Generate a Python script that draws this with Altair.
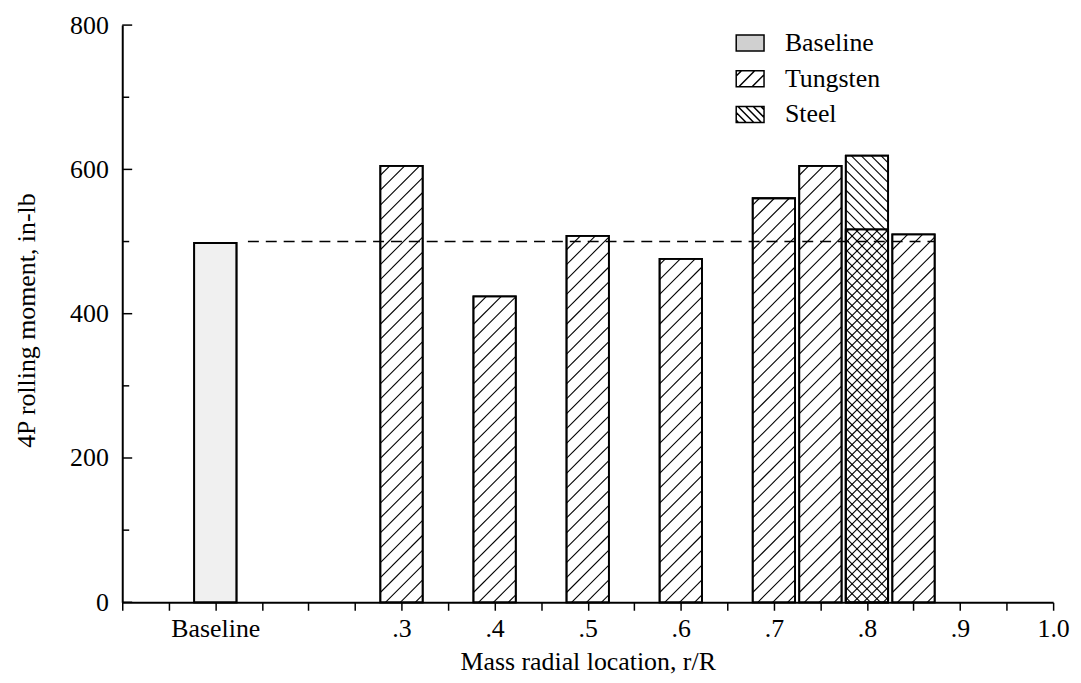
import altair as alt
import pandas as pd

# ---------------- data ----------------
SERIES = ["Baseline", "Tungsten", "Steel"]
BASELINE_X = [0.1]
BASELINE_Y = [498]
TUNGSTEN_X = [0.3, 0.4, 0.5, 0.6, 0.7, 0.75, 0.8, 0.85]
TUNGSTEN_Y = [605, 424, 508, 476, 560, 605, 517, 510]
STEEL_X = [0.8]
STEEL_Y = [619]
REF_LEVEL = [500]
REF_FROM = [0.135]
REF_TO = [0.872]

X_TICKS = [0, 0.05, 0.1, 0.15, 0.2, 0.25, 0.3, 0.35, 0.4, 0.45, 0.5,
           0.55, 0.6, 0.65, 0.7, 0.75, 0.8, 0.85, 0.9, 0.95, 1.0]
X_LABEL_AT = [0.1, 0.3, 0.4, 0.5, 0.6, 0.7, 0.8, 0.9, 1.0]
X_LABELS = ["Baseline", ".3", ".4", ".5", ".6", ".7", ".8", ".9", "1.0"]
Y_MAJOR = [0, 200, 400, 600, 800]
Y_MINOR = [100, 300, 500, 700]

# ---------------- layout / style constants ----------------
W, H = 937, 581
X_DOMAIN = [0, 1.0]
Y_DOMAIN = [0, 800]
BAR_W = 0.0455              # bar width in x units
PX_X = W / (X_DOMAIN[1] - X_DOMAIN[0])
PX_Y = H / (Y_DOMAIN[1] - Y_DOMAIN[0])
FONT = "Liberation Serif"
INK = "black"

# ---------------- tables ----------------
rows = []
for s, xs_, ys_ in [("Baseline", BASELINE_X, BASELINE_Y),
                    ("Steel", STEEL_X, STEEL_Y),
                    ("Tungsten", TUNGSTEN_X, TUNGSTEN_Y)]:
    for xv, yv in zip(xs_, ys_):
        rows.append({"series": s, "xc": xv, "xl": xv - BAR_W / 2,
                     "xr": xv + BAR_W / 2, "y": yv, "y0": 0})
bars = pd.DataFrame(rows)


def hatch_segments(xc, top, spacing, direction):
    """Hatch lines inside a bar, computed in pixel space, returned in data units."""
    w = BAR_W * PX_X
    h = top * PX_Y
    xl = xc - BAR_W / 2
    segs = []
    if direction == "/":
        c = -w + spacing * 0.5
        while c < h:
            u0, u1 = max(0.0, -c), min(w, h - c)
            if u1 - u0 > 0.5:
                segs.append((u0, u0 + c, u1, u1 + c))
            c += spacing
    else:
        c = spacing * 0.5
        while c < w + h:
            u0, u1 = max(0.0, c - h), min(w, c)
            if u1 - u0 > 0.5:
                segs.append((u0, c - u0, u1, c - u1))
            c += spacing
    return [{"hx": xl + a / PX_X, "hy": b / PX_Y,
             "hx2": xl + c_ / PX_X, "hy2": d / PX_Y} for a, b, c_, d in segs]


hrows = []
for xv, yv in zip(TUNGSTEN_X, TUNGSTEN_Y):
    dense = xv in STEEL_X
    hrows += hatch_segments(xv, yv, 10 if dense else 15, "/")
for xv, yv in zip(STEEL_X, STEEL_Y):
    hrows += hatch_segments(xv, yv, 10, "\\")
hatch = pd.DataFrame(hrows)

ref = pd.DataFrame({"x": REF_FROM, "x2": REF_TO, "y": REF_LEVEL})
ymaj = pd.DataFrame({"v": Y_MAJOR})
ymin = pd.DataFrame({"v": Y_MINOR})


# legend swatch paths (unit square -1..1)
def swatch(direction, n, step, start):
    p = "M-1,-0.57H1V0.57H-1Z"
    hh = 0.57
    for k in range(n):
        a = -1 + step * (k + start)
        if direction == "/":
            x0, y0, x1, y1 = a - 2 * hh, hh, a, -hh
        else:
            x0, y0, x1, y1 = a - 2 * hh, -hh, a, hh
        if x0 < -1:
            t = (-1 - x0) / (x1 - x0)
            x0, y0 = -1, y0 + t * (y1 - y0)
        if x1 > 1:
            t = (x1 - 1) / (x1 - x0)
            x1, y1 = 1, y1 - t * (y1 - y0)
        if x1 > x0 + 0.05:
            p += f" M{x0:.3f},{y0:.3f}L{x1:.3f},{y1:.3f}"
    return p


SHAPES = ["M-1,-0.57H1V0.57H-1Z", swatch("/", 3, 0.95, 0.4), swatch("\\", 6, 0.55, 0.3)]
LEG_FILLS = ["#d0d0d0", "white", "white"]
LEG_STROKES = [INK, INK, INK]

xscale = alt.Scale(domain=X_DOMAIN, nice=False, zero=False)
yscale = alt.Scale(domain=Y_DOMAIN, nice=False)

label_expr = "".join(
    f"abs(datum.value - {v}) < 1e-6 ? '{t}' : " for v, t in zip(X_LABEL_AT, X_LABELS)
) + "''"

x_axis = alt.Axis(
    values=X_TICKS, labelExpr=label_expr, grid=False,
    tickSize=8, tickWidth=1.5, tickColor=INK,
    domainWidth=2, domainColor=INK,
    labelFont=FONT, labelFontSize=26, labelColor=INK, labelPadding=5,
    labelFlush=False, labelOverlap=False,
    title="Mass radial location, r/R", titleFont=FONT, titleFontSize=26,
    titleFontWeight="normal", titleColor=INK, titlePadding=8,
)
y_axis = alt.Axis(
    values=Y_MAJOR, format="d", grid=False, ticks=False,
    domainWidth=2, domainColor=INK,
    labelFont=FONT, labelFontSize=26, labelColor=INK, labelPadding=14,
    title="4P rolling moment, in-lb", titleFont=FONT, titleFontSize=26,
    titleFontWeight="normal", titleColor=INK, titlePadding=30, titleY=297,
)


def X(field):
    return alt.X(field, scale=xscale, axis=x_axis)


def Y(field):
    return alt.Y(field, scale=yscale, axis=y_axis)


bar_layer = alt.Chart(bars).mark_bar(stroke=INK, strokeWidth=1.8).encode(
    x=X("xl:Q"), x2="xr:Q",
    y=Y("y:Q"), y2="y0:Q",
    fill=alt.condition(alt.datum.series == "Baseline",
                       alt.value("#f0f0f0"), alt.value("white")),
)

hatch_layer = alt.Chart(hatch).mark_rule(color=INK, strokeWidth=1.1).encode(
    x=X("hx:Q"), y=Y("hy:Q"), x2="hx2:Q", y2="hy2:Q",
)

outline_layer = alt.Chart(bars).mark_bar(stroke=INK, strokeWidth=1.8, fillOpacity=0).encode(
    x=X("xl:Q"), x2="xr:Q", y=Y("y:Q"), y2="y0:Q",
)

ref_layer = alt.Chart(ref).mark_rule(color=INK, strokeWidth=1.5, strokeDash=[11, 7]).encode(
    x=X("x:Q"), x2="x2:Q", y=Y("y:Q"),
)

ymaj_layer = alt.Chart(ymaj).mark_rule(color=INK, strokeWidth=1.5).encode(
    y=Y("v:Q"), x=alt.value(0), x2=alt.value(10),
)
ymin_layer = alt.Chart(ymin).mark_rule(color=INK, strokeWidth=1.5).encode(
    y=Y("v:Q"), x=alt.value(0), x2=alt.value(7),
)

legend = alt.Legend(
    title=None, orient="none", legendX=617, legendY=3, padding=0,
    symbolSize=784, symbolStrokeColor=INK, symbolStrokeWidth=1.5,
    symbolOpacity=1, labelOffset=20, rowPadding=8,
    labelFont=FONT, labelFontSize=26, labelColor=INK,
)
legend_layer = alt.Chart(bars).mark_point(filled=True, opacity=0).encode(
    x=X("xc:Q"), y=Y("y:Q"),
    shape=alt.Shape("series:N", scale=alt.Scale(domain=SERIES, range=SHAPES), legend=legend),
    fill=alt.Fill("series:N", scale=alt.Scale(domain=SERIES, range=LEG_FILLS), legend=legend),
    stroke=alt.Stroke("series:N", scale=alt.Scale(domain=SERIES, range=LEG_STROKES), legend=legend),
)

chart = alt.layer(
    bar_layer, hatch_layer, outline_layer, ref_layer, ymaj_layer, ymin_layer, legend_layer
).properties(
    width=W, height=H,
    autosize=alt.AutoSizeParams(type="none"),
    padding={"left": 115, "top": 15, "right": 20, "bottom": 75},
    background="white",
).configure_view(
    strokeWidth=0
).configure_legend(
    labelFont=FONT, labelFontSize=26, labelColor=INK
).configure_axis(
    labelFont=FONT, titleFont=FONT
)

chart.save("out.html", embed_options={"renderer": "svg", "actions": False})
